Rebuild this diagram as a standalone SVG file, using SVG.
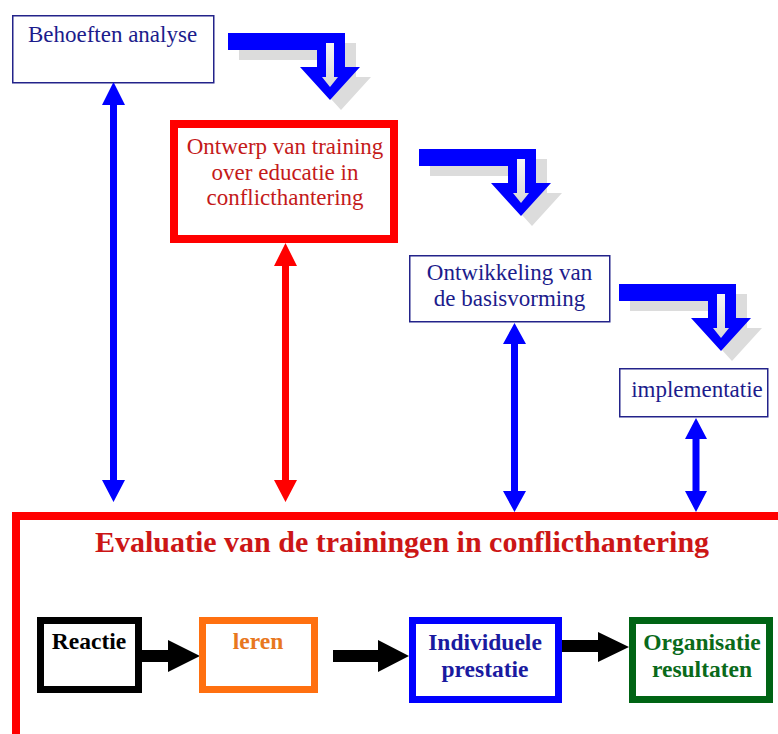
<svg xmlns="http://www.w3.org/2000/svg" width="778" height="734" viewBox="0 0 778 734">
<defs>
<style>
.top{font-family:"Liberation Serif","Times New Roman",serif;font-size:23px;fill:#1c1c8c;text-anchor:middle}
.red{fill:#c41a1a}
.bold{font-family:"Liberation Serif","Times New Roman",serif;font-size:23.5px;font-weight:bold;text-anchor:middle}
.thin{fill:#fff;stroke:#23238a;stroke-width:1.5}
</style>
<linearGradient id="inner" x1="0" y1="0" x2="0" y2="1">
<stop offset="0" stop-color="#f4f4f4"/>
<stop offset="1" stop-color="#d8d8d8"/>
</linearGradient>
<path id="fat" d="M0,0 H117 V34 H132 L102,67 L72,34 H89 V17 H0 Z"/>
<path id="innr" d="M98,10 H106 V44 H110 L102,54 L94,44 H98 Z"/>
</defs>
<rect width="778" height="734" fill="#fff"/>

<g id="flow-arrows">
<g transform="translate(228,33)">
<use href="#fat" transform="translate(11,10)" fill="#dcdcdc"/>
<use href="#fat" fill="#0000ff"/>
<use href="#innr" fill="url(#inner)"/>
</g>
<g transform="translate(419,149)">
<use href="#fat" transform="translate(11,10)" fill="#dcdcdc"/>
<use href="#fat" fill="#0000ff"/>
<use href="#innr" fill="url(#inner)"/>
</g>
<g transform="translate(619,284)">
<use href="#fat" transform="translate(11,10)" fill="#dcdcdc"/>
<use href="#fat" fill="#0000ff"/>
<use href="#innr" fill="url(#inner)"/>
</g>
</g>

<g id="behoeften">
<rect class="thin" x="12.75" y="15.75" width="201" height="67"/>
<text class="top" x="112.5" y="42">Behoeften analyse</text>
</g>

<g id="ontwerp">
<rect x="174" y="124" width="220" height="115" fill="#fff" stroke="#ff0000" stroke-width="8"/>
<text class="top red" x="285" y="154">Ontwerp van training</text>
<text class="top red" x="285" y="180">over educatie in</text>
<text class="top red" x="285" y="205">conflicthantering</text>
</g>

<g id="ontwikkeling">
<rect class="thin" x="409.75" y="255.75" width="200" height="66"/>
<text class="top" x="509.5" y="280">Ontwikkeling van</text>
<text class="top" x="509.5" y="306">de basisvorming</text>
</g>

<g id="implementatie">
<rect class="thin" x="619.75" y="368.75" width="148" height="48"/>
<text class="top" x="697" y="397">implementatie</text>
</g>

<g id="evaluatie">
<rect x="16" y="516" width="780" height="230" fill="#fff" stroke="#ff0000" stroke-width="8"/>
<text x="402" y="552" font-family="Liberation Serif,Times New Roman,serif" font-size="30" font-weight="bold" fill="#cc1616" text-anchor="middle">Evaluatie van de trainingen in conflicthantering</text>
</g>

<g id="connectors">
<polygon fill="#0000ff" points="113.5,82 125,105 117,105 117,480 125,480 113.5,502 102,480 110,480 110,105 102,105"/>
<polygon fill="#ff0000" points="285.5,243 297,266 289,266 289,480 297,480 285.5,502 274,480 282,480 282,266 274,266"/>
<polygon fill="#0000ff" points="514.5,323 526,344 518,344 518,491 526,491 514.5,512 503,491 511,491 511,344 503,344"/>
<polygon fill="#0000ff" points="696,418 707,439 699.5,439 699.5,491 707,491 696,512 685,491 692.5,491 692.5,439 685,439"/>
<polygon fill="#000" points="142,650 168,650 168,640 200,656 168,672 168,662 142,662"/>
<polygon fill="#000" points="333,650 378,650 378,640 409,656 378,672 378,662 333,662"/>
<polygon fill="#000" points="562,640 598,640 598,632 629,647 598,662 598,652 562,652"/>
</g>

<g id="reactie">
<rect x="40.5" y="620.5" width="98" height="69" fill="#fff" stroke="#000" stroke-width="7"/>
<text class="bold" x="89" y="649" fill="#000">Reactie</text>
</g>

<g id="leren">
<rect x="202.5" y="620.5" width="112" height="69" fill="#fff" stroke="#ff7010" stroke-width="7"/>
<text class="bold" x="258" y="649" fill="#e8771e">leren</text>
</g>

<g id="individuele">
<rect x="412.5" y="620.5" width="146" height="79" fill="#fff" stroke="#0000ff" stroke-width="7"/>
<text class="bold" x="485" y="650" fill="#1a1aa0">Individuele</text>
<text class="bold" x="485" y="677" fill="#1a1aa0">prestatie</text>
</g>

<g id="organisatie">
<rect x="632.5" y="620.5" width="137" height="79" fill="#fff" stroke="#006414" stroke-width="7"/>
<text class="bold" x="702" y="650" fill="#0a6a1a">Organisatie</text>
<text class="bold" x="702" y="677" fill="#0a6a1a">resultaten</text>
</g>
</svg>
